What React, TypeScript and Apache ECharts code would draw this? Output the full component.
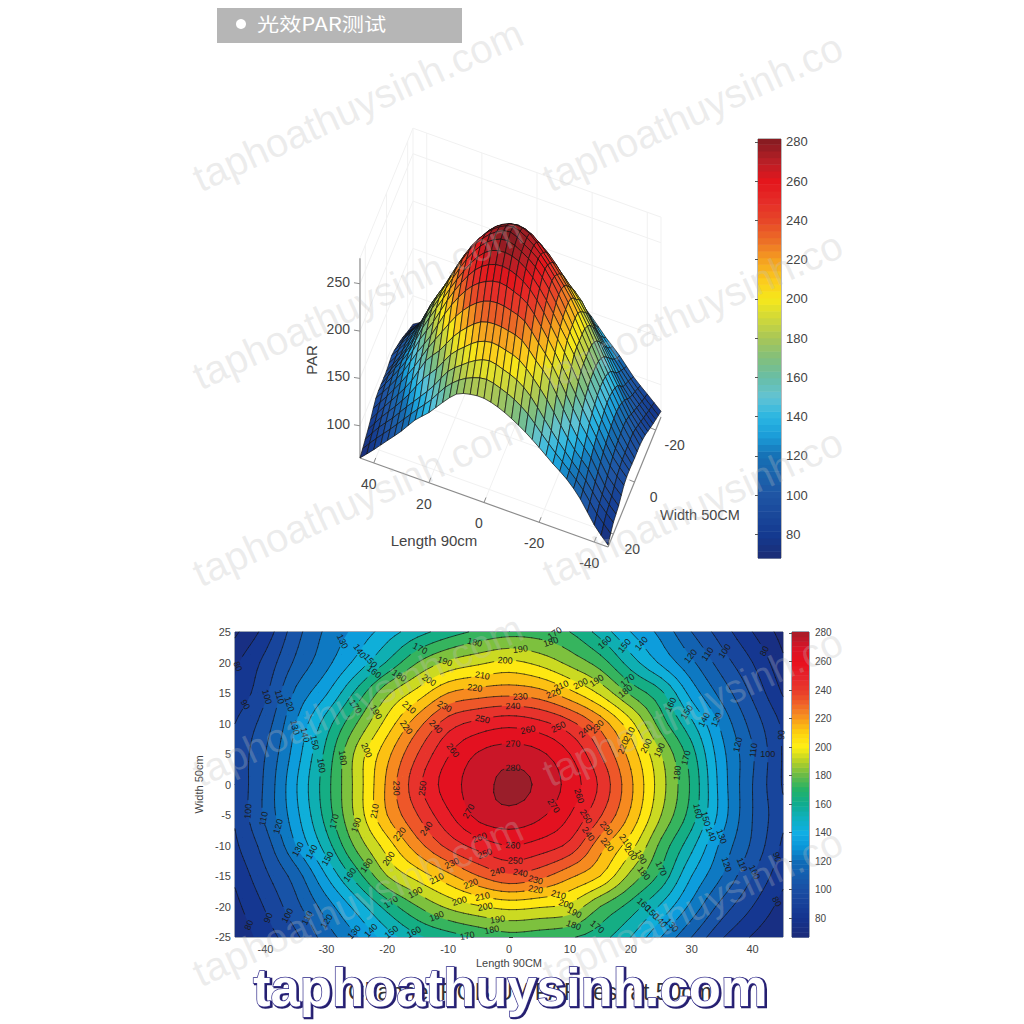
import React, { useEffect, useRef } from "react";
import * as echarts from "echarts";

// ---------- values ----------
const xValues = [-45, -40, -35, -30, -25, -20, -15, -10, -5, 0, 5, 10, 15, 20, 25, 30, 35, 40, 45];
const yValues = [25, 20, 15, 10, 5, 0, -5, -10, -15, -20, -25];
const parY25 = [68, 84, 106, 122, 133, 145, 156, 165, 172, 176, 175, 170, 156, 140, 127, 110, 95, 80, 66];
const parY20 = [78, 93, 112, 127, 143, 161, 180, 192, 198, 202, 197, 187, 175, 155, 138, 122, 105, 90, 72];
const parY15 = [82, 98, 122, 139, 163, 188, 204, 220, 225, 227, 224, 213, 198, 178, 162, 136, 116, 98, 79];
const parY10 = [90, 105, 130, 155, 180, 204, 226, 245, 253, 257, 253, 243, 226, 203, 175, 152, 127, 106, 88];
const parY5 = [92, 110, 135, 163, 193, 217, 240, 259, 271, 275, 272, 260, 240, 216, 190, 164, 133, 111, 89];
const parY0 = [91, 112, 139, 166, 194, 222, 247, 265, 275, 283, 278, 266, 248, 222, 194, 168, 135, 110, 89];
const parYm5 = [91, 112, 137, 164, 193, 220, 240, 258, 273, 277, 272, 260, 241, 218, 190, 165, 135, 110, 92];
const parYm10 = [88, 105, 130, 155, 183, 205, 226, 243, 254, 260, 256, 247, 224, 204, 177, 153, 127, 108, 88];
const parYm15 = [82, 98, 115, 140, 165, 190, 204, 217, 230, 238, 233, 222, 210, 187, 167, 140, 120, 100, 83];
const parYm20 = [77, 91, 107, 125, 144, 164, 180, 192, 199, 203, 201, 197, 180, 166, 148, 127, 106, 90, 76];
const parYm25 = [72, 85, 98, 115, 129, 145, 158, 165, 171, 176, 174, 171, 164, 150, 130, 110, 91, 79, 70];
const parRows = [parY25, parY20, parY15, parY10, parY5, parY0, parYm5, parYm10, parYm15, parYm20, parYm25];

const contourLevels = [70, 80, 90, 100, 110, 120, 130, 140, 150, 160, 170, 180, 190, 200, 210, 220, 230, 240, 250, 260, 270, 280];
const lengthTicksContour = [-40, -30, -20, -10, 0, 10, 20, 30, 40];
const barTicks = [80, 100, 120, 140, 160, 180, 200, 220, 240, 260, 280];
const lengthTicks3D = [40, 20, 0, -20, -40];
const widthTicks3D = [-20, 0, 20];
const parTicks3D = [100, 150, 200, 250];

// contour label: [level, length, width]
const contourLabels: number[][] = [
  [80, -43.9, 18.9], [90, -43.4, 13.1], [100, -39.8, 14.5], [110, -37.9, 14], [120, -36.3, 13.1], [130, -35.3, 9.3],
  [140, -33.5, 8.7], [150, -31.9, 7.1], [160, -30.8, 3.5], [180, -27.1, 4.4], [200, -23.1, 5.5], [230, -18.5, -1.1],
  [250, -14.3, -0.5], [130, -26.4, 23.2], [140, -24.2, 22.1], [150, -22.8, 20.6], [160, -22.8, 18.6], [180, -18.2, 18.3],
  [170, -25.9, 12.7], [190, -22.2, 12.3], [170, -14.6, 22.4], [180, -5.9, 23.8], [190, -10.4, 20.4], [200, -13.3, 17.5],
  [200, -0.7, 20.5], [210, -16.8, 12.8], [210, -4.5, 18.9], [220, -17.4, 9.3], [220, -5.6, 16.8], [230, -10.3, 13.1],
  [240, -12.2, 9.3], [240, 0.1, 12.6], [250, -4.8, 11], [260, -9.4, 5.2], [270, 0.1, 6.7], [280, 0.4, 1.4],
  [170, 7.5, 24.8], [180, 7, 22.8], [190, 2.1, 22.1], [210, 8.4, 16.4], [220, 7.3, 15.1], [200, 11.9, 16.7], [190, 14.7, 17],
  [170, 19.6, 17.3], [180, 19.1, 15.7], [160, 15.5, 22.4], [150, 18.8, 22.4], [140, 21.8, 23], [120, 29.4, 21.3],
  [110, 32.5, 21.6], [100, 35.3, 21.9], [80, 41.8, 22.4], [160, 27.1, 13.1], [150, 29.7, 12.4], [140, 32.3, 11.2],
  [130, 34.4, 10.8], [230, 2.4, 14], [250, 8.1, 9.7], [260, 2.6, 9.1], [240, 12.6, 8.7], [230, 14.7, 9.3], [210, 19.9, 8.2],
  [220, 18.8, 6.6], [200, 22.6, 6.6], [190, 25, 5.6], [170, 28.9, 4.6], [180, 27.5, 2.2], [120, 38, 6.4], [110, 40.2, 5.7],
  [100, 42.6, 4.9], [90, 44.4, 7.6], [100, -43.1, -4.6], [110, -40.5, -5.5], [120, -38.3, -6.6], [170, -28.9, -6.3],
  [190, -25.5, -6.3], [210, -22.3, -4.1], [240, -14.1, -7.4], [270, -7, -4.1], [260, -5, -8.2], [220, -18.2, -8.7],
  [130, -35.3, -10.9], [140, -33.2, -11.2], [150, -30.2, -12.6], [160, -26.7, -15], [180, -23.3, -13.7], [200, -20, -12],
  [250, -4.2, -11.1], [230, -9.2, -13.4], [240, -1.8, -13.9], [210, -12, -16.1], [220, -6.3, -16.2], [210, -4.5, -18.4],
  [190, -15.2, -18.3], [200, -8.1, -19.3], [200, -3.9, -20], [170, -19.3, -19.6], [180, -11.5, -21.7], [190, -2.3, -22],
  [180, -2.7, -23.5], [90, -39.7, -21.6], [100, -36.4, -21.9], [110, -33.1, -22.4], [120, -30.2, -22.4], [80, -42.3, -23.2],
  [130, -25.3, -23.8], [140, -22.6, -23.8], [150, -19.3, -23.8], [160, -15.2, -23.9], [170, -6.7, -24.4],
  [260, 11.4, -2.2], [270, 7.8, -3.6], [250, 13, -5.5], [240, 13.8, -8.7], [230, 16.9, -7.6], [220, 16.9, -10.9],
  [210, 19.9, -9.8], [200, 20.7, -12], [190, 22.3, -12.6], [170, 25.6, -14], [180, 22.3, -15.3], [160, 22.3, -19.4],
  [150, 23.7, -20.8], [140, 25.1, -22.1], [130, 26.7, -23], [160, 31.1, -4.9], [150, 32.5, -6.3], [140, 34, -7.8],
  [130, 35.8, -8.7], [120, 36.3, -13.1], [110, 38.7, -13.3], [100, 40.7, -14], [90, 44.2, -12], [80, 44, -19.4],
  [260, 0.4, -10.1], [250, 1.3, -12.5], [240, 1.8, -14.6], [230, 4.8, -15.8], [220, 4.8, -17.5], [210, 8.1, -18.3],
  [200, 8.9, -19.8], [190, 10.6, -20.8], [180, 10, -22.6], [170, 14, -22.8],
];

// colour maps
const mapStops = [66, 80, 100, 120, 130, 140, 150, 160, 170, 180, 190, 200, 210, 220, 230, 240, 250, 260, 270, 283];
const contourColors = ["#1c2a78", "#14338e", "#1a4ea4", "#0f6cb8", "#0b96d8", "#10aee4", "#0eb0c0", "#10ac90", "#22b268", "#66ba48", "#b4d028", "#fff013", "#fdd20f", "#f89a1c", "#f06428", "#e83a2c", "#e6222c", "#e8101c", "#d81428", "#9a1e2a"];
const surfaceColors = ["#1d2a70", "#143a90", "#1f55a4", "#1670b4", "#1b9cd8", "#2ab6e2", "#62c3d4", "#68bea6", "#82bf7c", "#a8c658", "#cfd83a", "#f6e81a", "#fbc91d", "#f5a020", "#ec6e26", "#e74628", "#e52c28", "#e4161c", "#b81f26", "#7c1a20"];

const FONT = '"Liberation Sans", Arial, sans-serif';

function hex(c: string) { return [1, 3, 5].map((i) => parseInt(c.slice(i, i + 2), 16)); }
function mapColor(colors: string[], z: number) {
  const v = Math.max(mapStops[0], Math.min(mapStops[mapStops.length - 1], z));
  let i = 0;
  while (i < mapStops.length - 2 && v > mapStops[i + 1]) i++;
  const t = (v - mapStops[i]) / (mapStops[i + 1] - mapStops[i]);
  const a = hex(colors[i]), b = hex(colors[i + 1]);
  return `rgb(${a.map((p, k) => Math.round(p + (b[k] - p) * t)).join(",")})`;
}

// ---------- smooth display mesh through the read values ----------
function cr(a: number, b: number, c: number, d: number, t: number) {
  return 0.5 * (2 * b + (c - a) * t + (2 * a - 5 * b + 4 * c - d) * t * t + (3 * b - a - 3 * c + d) * t * t * t);
}
function refineLine(s: number[], f: number) {
  const out: number[] = [];
  const at = (i: number) => i < 0 ? 2 * s[0] - s[1] : i >= s.length ? 2 * s[s.length - 1] - s[s.length - 2] : s[i];
  for (let i = 0; i < s.length - 1; i++) for (let k = 0; k < f; k++) out.push(cr(at(i - 1), at(i), at(i + 1), at(i + 2), k / f));
  out.push(s[s.length - 1]);
  return out;
}
function refineGrid(rows: number[][], f: number) {
  const r = rows.map((row) => refineLine(row, f));
  const nx = r[0].length;
  const cols: number[][] = [];
  for (let i = 0; i < nx; i++) cols.push(refineLine(r.map((row) => row[i]), f));
  const ny = cols[0].length;
  const res: number[][] = [];
  for (let j = 0; j < ny; j++) res.push(cols.map((c) => c[j]));
  return res;
}
function refineAxis(a: number[], f: number) {
  const o: number[] = [];
  for (let i = 0; i < a.length - 1; i++) for (let k = 0; k < f; k++) o.push(a[i] + (a[i + 1] - a[i]) * k / f);
  o.push(a[a.length - 1]);
  return o;
}

// contour mesh
const CF = 4;
const fx = refineAxis(xValues, CF), fy = refineAxis(yValues, CF), fz = refineGrid(parRows, CF);
// surface mesh
const SF = 2;
const sx = refineAxis(xValues, SF), sy = refineAxis(yValues, SF), sz = refineGrid(parRows, SF);

// band region for v >= L
function regionPolys(L: number) {
  const polys: number[][][] = [];
  for (let j = 0; j < fy.length - 1; j++) {
    let run = -1;
    const flush = (end: number) => {
      if (run >= 0) polys.push([[fx[run], fy[j]], [fx[end], fy[j]], [fx[end], fy[j + 1]], [fx[run], fy[j + 1]]]);
      run = -1;
    };
    for (let i = 0; i < fx.length - 1; i++) {
      const q = [[fx[i], fy[j], fz[j][i]], [fx[i + 1], fy[j], fz[j][i + 1]], [fx[i + 1], fy[j + 1], fz[j + 1][i + 1]], [fx[i], fy[j + 1], fz[j + 1][i]]];
      const inside = q.filter((p) => p[2] >= L).length;
      if (inside === 4) { if (run < 0) run = i; continue; }
      flush(i);
      if (inside === 0) continue;
      const out: number[][] = [];
      for (let k = 0; k < 4; k++) {
        const a = q[k], b = q[(k + 1) % 4];
        if (a[2] >= L) out.push([a[0], a[1]]);
        if ((a[2] >= L) !== (b[2] >= L)) {
          const t = (L - a[2]) / (b[2] - a[2]);
          out.push([a[0] + (b[0] - a[0]) * t, a[1] + (b[1] - a[1]) * t]);
        }
      }
      polys.push(out);
    }
    flush(fx.length - 1);
  }
  return polys;
}
function levelSegments(L: number) {
  const segs: number[][] = [];
  for (let j = 0; j < fy.length - 1; j++) for (let i = 0; i < fx.length - 1; i++) {
    const q = [[fx[i], fy[j], fz[j][i]], [fx[i + 1], fy[j], fz[j][i + 1]], [fx[i + 1], fy[j + 1], fz[j + 1][i + 1]], [fx[i], fy[j + 1], fz[j + 1][i]]];
    const c: number[][] = [];
    for (let k = 0; k < 4; k++) {
      const a = q[k], b = q[(k + 1) % 4];
      if ((a[2] >= L) !== (b[2] >= L)) {
        const t = (L - a[2]) / (b[2] - a[2]);
        c.push([a[0] + (b[0] - a[0]) * t, a[1] + (b[1] - a[1]) * t]);
      }
    }
    if (c.length >= 2) segs.push([c[0][0], c[0][1], c[1][0], c[1][1]]);
    if (c.length === 4) segs.push([c[2][0], c[2][1], c[3][0], c[3][1]]);
  }
  return segs;
}
const segsByLevel = new Map<number, number[][]>();
contourLevels.forEach((L) => segsByLevel.set(L, levelSegments(L)));

// snap each label onto its own contour
const placedLabels = contourLabels.map(([L, x, y]) => {
  const segs = segsByLevel.get(L) || [];
  let best = Infinity, px = x, py = y, ang = 0;
  for (const s of segs) {
    const mx = (s[0] + s[2]) / 2, my = (s[1] + s[3]) / 2;
    const d = (mx - x) ** 2 + (my - y) ** 2;
    if (d < best) { best = d; px = mx; py = my; ang = Math.atan2(-(s[3] - s[1]), s[2] - s[0]); }
  }
  if (best > 9) { px = x; py = y; }
  if (ang > Math.PI / 2) ang -= Math.PI;
  if (ang < -Math.PI / 2) ang += Math.PI;
  return { L, x: px, y: py, ang };
});

// ---------- 3D view ----------
const Z0 = 66;
const ZTOP = 277;
function proj(x: number, y: number, z: number) {
  return [-2.756 * x - 1.06 * y, 0.989 * x - 2.6 * y + 0.947 * z];
}
const surfaceCells: number[][] = [];
for (let j = 0; j < sy.length - 1; j++) for (let i = 0; i < sx.length - 1; i++) surfaceCells.push([i, j]);
surfaceCells.sort((a, b) => {
  const d = (c: number[]) => -0.989 * sx[c[0]] + 2.6 * sy[c[1]];
  return d(a) - d(b);
});

// faint back walls + floor + axes as polylines in 3D, each [x0,y0,z0,x1,y1,z1]
const X_HI = 45, X_LO = -45, Y_HI = 25, Y_LO = -25;
const wallLines: number[][] = [];
parTicks3D.concat([ZTOP]).forEach((z) => {
  wallLines.push([X_HI, Y_HI, z, X_HI, Y_LO, z], [X_HI, Y_LO, z, X_LO, Y_LO, z]);
});
lengthTicks3D.forEach((x) => {
  wallLines.push([x, Y_LO, Z0, x, Y_LO, ZTOP], [x, Y_HI, Z0, x, Y_LO, Z0]);
});
widthTicks3D.forEach((y) => {
  wallLines.push([X_HI, y, Z0, X_HI, y, ZTOP], [X_HI, y, Z0, X_LO, y, Z0]);
});
wallLines.push([X_HI, Y_LO, Z0, X_HI, Y_LO, ZTOP], [X_LO, Y_LO, Z0, X_LO, Y_LO, ZTOP], [X_HI, Y_HI, Z0, X_HI, Y_LO, Z0], [X_HI, Y_LO, Z0, X_LO, Y_LO, Z0]);

const axisLines3D = [
  [X_HI, Y_HI, Z0, X_HI, Y_HI, ZTOP],
  [X_HI, Y_HI, Z0, X_LO, Y_HI, Z0],
  [X_LO, Y_HI, Z0, X_LO, Y_LO, Z0],
];

const WATERMARK = "taphoathuysinh.com";
const WATERMARK_CUT = "taphoathuysinh.co";

function barBands(lo: number, hi: number, step: number) {
  const out: number[][] = [];
  for (let v = lo; v < hi; v += step) out.push([v, Math.min(hi, v + step)]);
  return out;
}

export default function App() {
  const ref = useRef<HTMLDivElement>(null);
  useEffect(() => {
    const chart = echarts.init(ref.current!, undefined, { renderer: "svg", width: 1024, height: 1024 });
    const axisText = { fontFamily: FONT, color: "#444" };

    const toPath = (api: any, polys: number[][][]) => {
      let d = "";
      for (const p of polys) {
        p.forEach((pt, i) => {
          const c = api.coord(pt);
          d += (i ? "L" : "M") + c[0].toFixed(2) + " " + c[1].toFixed(2);
        });
        d += "Z";
      }
      return d;
    };

    const watermarks: any[] = [];
    [180, 378, 575, 775, 975].forEach((y) => {
      watermarks.push({ type: "text", z: 50, x: 195, y, rotation: 0.43, style: { text: WATERMARK, fontFamily: FONT, fontSize: 40, fill: "rgba(190,190,190,0.28)", align: "left", verticalAlign: "middle" } });
      watermarks.push({ type: "text", z: 50, x: 545, y, rotation: 0.43, style: { text: WATERMARK_CUT, fontFamily: FONT, fontSize: 40, fill: "rgba(190,190,190,0.28)", align: "left", verticalAlign: "middle" } });
    });

    const option: any = {
      animation: false,
      backgroundColor: "#ffffff",
      grid: [
        { left: 235, top: 632, width: 548, height: 305, show: true, borderColor: "#3a4a6a", borderWidth: 1, backgroundColor: "transparent" },
        { left: 300.5, top: 100, width: 500, height: 500, show: false },
        { left: 758, top: 139, width: 23, height: 419, show: true, borderColor: "#777", borderWidth: 1 },
        { left: 792, top: 632, width: 17, height: 305, show: true, borderColor: "#3a4a6a", borderWidth: 1 },
      ],
      xAxis: [
        {
          gridIndex: 0, type: "value", min: -45, max: 45, position: "bottom",
          axisLine: { show: true, lineStyle: { color: "#3a4a6a", width: 1 } },
          axisTick: { inside: true, length: 4, lineStyle: { color: "#333" }, customValues: lengthTicksContour },
          axisLabel: { ...axisText, fontSize: 11, margin: 6, customValues: lengthTicksContour },
          splitLine: { show: false },
          name: "Length 90CM", nameLocation: "middle", nameGap: 20, nameTextStyle: { ...axisText, fontSize: 11 },
        },
        { gridIndex: 1, type: "value", min: -210, max: 290, show: false },
        { gridIndex: 2, type: "value", min: 0, max: 1, show: false },
        { gridIndex: 3, type: "value", min: 0, max: 1, show: false },
      ],
      yAxis: [
        {
          gridIndex: 0, type: "value", min: -25, max: 25, interval: 5,
          axisLine: { show: true, lineStyle: { color: "#3a4a6a", width: 1 } },
          axisTick: { inside: true, length: 4, lineStyle: { color: "#333" } },
          axisLabel: { ...axisText, fontSize: 11, margin: 4, verticalAlign: "middle" },
          splitLine: { show: false },
          name: "Width 50cm", nameLocation: "middle", nameGap: 11, nameRotate: 90, nameTextStyle: { ...axisText, fontSize: 11 },
        },
        { gridIndex: 1, type: "value", min: -100, max: 400, show: false },
        {
          gridIndex: 2, type: "value", min: 68, max: 281.5, position: "right",
          axisLine: { show: false },
          axisTick: { inside: true, length: 3, lineStyle: { color: "#555" }, customValues: barTicks },
          axisLabel: { ...axisText, fontSize: 13, margin: 5, customValues: barTicks },
          splitLine: { show: false },
        },
        {
          gridIndex: 3, type: "value", min: 66.7, max: 280.7, position: "right",
          axisLine: { show: false },
          axisTick: { inside: true, length: 3, lineStyle: { color: "#555" }, customValues: barTicks },
          axisLabel: { ...axisText, fontSize: 10, margin: 6, customValues: barTicks },
          splitLine: { show: false },
        },
      ],
      series: [
        // contour fill
        {
          type: "custom", name: "fill", xAxisIndex: 0, yAxisIndex: 0, silent: true, z: 2, clip: true,
          coordinateSystem: "cartesian2d",
          data: [60].concat(contourLevels).map((L) => [L]),
          encode: { x: 0, y: 0 },
          renderItem: (p: any, api: any) => {
            const L = api.value(0);
            const polys = L === 60
              ? [[[-45, 25], [45, 25], [45, -25], [-45, -25]]]
              : regionPolys(L);
            return {
              type: "path",
              shape: { pathData: toPath(api, polys) },
              style: { fill: mapColor(contourColors, L === 60 ? 66 : L + 3), stroke: "none" },
            };
          },
        },
        // contour lines
        {
          type: "custom", name: "lines", xAxisIndex: 0, yAxisIndex: 0, silent: true, z: 3,
          coordinateSystem: "cartesian2d",
          data: contourLevels.map((L) => [L]),
          encode: { x: 0, y: 0 },
          renderItem: (p: any, api: any) => {
            const L = api.value(0);
            const labs = placedLabels.filter((l) => l.L === L);
            const segs = (segsByLevel.get(L) || []).filter((s) => {
              const mx = (s[0] + s[2]) / 2, my = (s[1] + s[3]) / 2;
              return !labs.some((l) => Math.hypot(mx - l.x, my - l.y) < 1.5);
            });
            let d = "";
            for (const s of segs) {
              const a = api.coord([s[0], s[1]]), b = api.coord([s[2], s[3]]);
              d += "M" + a[0].toFixed(2) + " " + a[1].toFixed(2) + "L" + b[0].toFixed(2) + " " + b[1].toFixed(2);
            }
            return {
              type: "path", shape: { pathData: d || "M0 0" },
              style: { fill: "none", stroke: "#141414", lineWidth: 0.7, lineCap: "round" },
            };
          },
        },
        // contour labels
        {
          type: "custom", name: "labels", xAxisIndex: 0, yAxisIndex: 0, silent: true, z: 4,
          coordinateSystem: "cartesian2d",
          data: placedLabels.map((l, i) => [l.x, l.y, i]),
          encode: { x: 0, y: 1 },
          renderItem: (p: any, api: any) => {
            const l = placedLabels[api.value(2)];
            const c = api.coord([l.x, l.y]);
            return {
              type: "text", x: c[0], y: c[1], rotation: l.ang,
              style: { text: String(l.L), fontFamily: FONT, fontSize: 9, fill: "#1a1a1a", align: "center", verticalAlign: "middle" },
            };
          },
        },
        // 3D walls
        {
          type: "custom", name: "walls", xAxisIndex: 1, yAxisIndex: 1, silent: true, z: 1,
          coordinateSystem: "cartesian2d",
          data: wallLines.map((_, i) => [i]),
          encode: { x: 0, y: 0 },
          renderItem: (p: any, api: any) => {
            const w = wallLines[api.value(0)];
            const a = api.coord(proj(w[0], w[1], w[2])), b = api.coord(proj(w[3], w[4], w[5]));
            return { type: "line", shape: { x1: a[0], y1: a[1], x2: b[0], y2: b[1] }, style: { stroke: "#f1f1f1", lineWidth: 1 } };
          },
        },
        // 3D axis lines
        {
          type: "custom", name: "axes3d", xAxisIndex: 1, yAxisIndex: 1, silent: true, z: 2,
          coordinateSystem: "cartesian2d",
          data: axisLines3D.map((_, i) => [i]),
          encode: { x: 0, y: 0 },
          renderItem: (p: any, api: any) => {
            const w = axisLines3D[api.value(0)];
            const a = api.coord(proj(w[0], w[1], w[2])), b = api.coord(proj(w[3], w[4], w[5]));
            return { type: "line", shape: { x1: a[0], y1: a[1], x2: b[0], y2: b[1] }, style: { stroke: "#8c8c8c", lineWidth: 1.2 } };
          },
        },
        // 3D ticks + labels
        {
          type: "custom", name: "ticks3d", xAxisIndex: 1, yAxisIndex: 1, silent: true, z: 2,
          coordinateSystem: "cartesian2d",
          data: [
            ...parTicks3D.map((t) => [0, t]),
            ...lengthTicks3D.map((t) => [1, t]),
            ...widthTicks3D.map((t) => [2, t]),
          ],
          encode: { x: 1, y: 1 },
          renderItem: (p: any, api: any) => {
            const kind = api.value(0), t = api.value(1);
            const pt = kind === 0 ? proj(X_HI, Y_HI, t) : kind === 1 ? proj(t, Y_HI, Z0) : proj(X_LO, t, Z0);
            const c = api.coord(pt);
            const tick = kind === 0 ? [-6, -1] : kind === 1 ? [2, -5] : [-5, -2];
            const label = kind === 0 ? [-10, -2] : kind === 1 ? [-5, 21] : [19, 15];
            return {
              type: "group",
              children: [
                { type: "line", shape: { x1: c[0], y1: c[1], x2: c[0] + tick[0], y2: c[1] + tick[1] }, style: { stroke: "#8c8c8c", lineWidth: 1 } },
                {
                  type: "text", x: c[0] + label[0], y: c[1] + label[1],
                  style: { text: String(t), fontFamily: FONT, fontSize: 14, fill: "#444", align: kind === 0 ? "right" : "center", verticalAlign: "middle" },
                },
              ],
            };
          },
        },
        // 3D surface
        {
          type: "custom", name: "surface", xAxisIndex: 1, yAxisIndex: 1, silent: true, z: 3,
          coordinateSystem: "cartesian2d",
          data: surfaceCells.map((c) => [c[0], c[1]]),
          encode: { x: 0, y: 1 },
          renderItem: (p: any, api: any) => {
            const i = api.value(0), j = api.value(1);
            const corners = [[i, j], [i + 1, j], [i + 1, j + 1], [i, j + 1]];
            const pts = corners.map(([a, b]) => api.coord(proj(sx[a], sy[b], sz[b][a])));
            const avg = corners.reduce((m, [a, b]) => m + sz[b][a], 0) / 4;
            return {
              type: "polygon", shape: { points: pts },
              style: { fill: mapColor(surfaceColors, avg), stroke: "#111", lineWidth: 0.7 },
            };
          },
        },
        // colour bars
        {
          type: "custom", name: "bar3d", xAxisIndex: 2, yAxisIndex: 2, silent: true, z: 2,
          coordinateSystem: "cartesian2d",
          data: barBands(68, 281.5, 3.4),
          encode: { y: [0, 1] },
          renderItem: (p: any, api: any) => {
            const lo = api.value(0), hi = api.value(1);
            const a = api.coord([0, hi]), b = api.coord([1, lo]);
            return { type: "rect", shape: { x: a[0], y: a[1], width: b[0] - a[0], height: b[1] - a[1] + 0.5 }, style: { fill: mapColor(surfaceColors, (lo + hi) / 2) } };
          },
        },
        {
          type: "custom", name: "barContour", xAxisIndex: 3, yAxisIndex: 3, silent: true, z: 2,
          coordinateSystem: "cartesian2d",
          data: barBands(66.7, 280.7, 3.4),
          encode: { y: [0, 1] },
          renderItem: (p: any, api: any) => {
            const lo = api.value(0), hi = api.value(1);
            const a = api.coord([0, hi]), b = api.coord([1, lo]);
            return { type: "rect", shape: { x: a[0], y: a[1], width: b[0] - a[0], height: b[1] - a[1] + 0.5 }, style: { fill: mapColor(contourColors, (lo + hi) / 2) } };
          },
        },
      ],
      graphic: [
        { type: "rect", z: 5, shape: { x: 217, y: 8, width: 245, height: 35 }, style: { fill: "#b6b6b6" } },
        { type: "circle", z: 6, shape: { cx: 241, cy: 24, r: 5 }, style: { fill: "#ffffff" } },
        { type: "text", z: 6, x: 257, y: 23, scaleX: 1.2, style: { text: "光效PAR测试", fontFamily: '"Noto Sans CJK SC"', fontSize: 18.5, fill: "#ffffff", align: "left", verticalAlign: "middle" } },
        { type: "text", z: 6, x: 311, y: 360, rotation: Math.PI / 2, style: { text: "PAR", fontFamily: FONT, fontSize: 15, fill: "#444", align: "center", verticalAlign: "middle" } },
        { type: "text", z: 6, x: 434, y: 540, style: { text: "Length 90cm", fontFamily: FONT, fontSize: 15, fill: "#444", align: "center", verticalAlign: "middle" } },
        { type: "text", z: 6, x: 700, y: 515, style: { text: "Width 50CM", fontFamily: FONT, fontSize: 14.5, fill: "#444", align: "center", verticalAlign: "middle" } },
        ...watermarks,
        { type: "text", z: 55, x: 530, y: 992, style: { text: "Channel RGB UV PAR test at 50cm", fontFamily: FONT, fontSize: 23, fill: "#333", align: "center", verticalAlign: "middle" } },
        { type: "text", z: 59, x: 254.5, y: 988.5, scaleX: 0.975, style: { text: WATERMARK, fontFamily: FONT, fontWeight: "bold", fontSize: 54, fill: "#26206e", stroke: "#26206e", lineWidth: 2.5, align: "left", verticalAlign: "middle" } },
        { type: "text", z: 60, x: 253, y: 987, scaleX: 0.975, style: { text: WATERMARK, fontFamily: FONT, fontWeight: "bold", fontSize: 54, fill: "#ffffff", stroke: "#3a3490", lineWidth: 1.5, align: "left", verticalAlign: "middle" } },
      ],
    };
    chart.setOption(option);
    return () => chart.dispose();
  }, []);
  return <div ref={ref} style={{ position: "absolute", left: 0, top: 0, width: 1024, height: 1024 }} />;
}
